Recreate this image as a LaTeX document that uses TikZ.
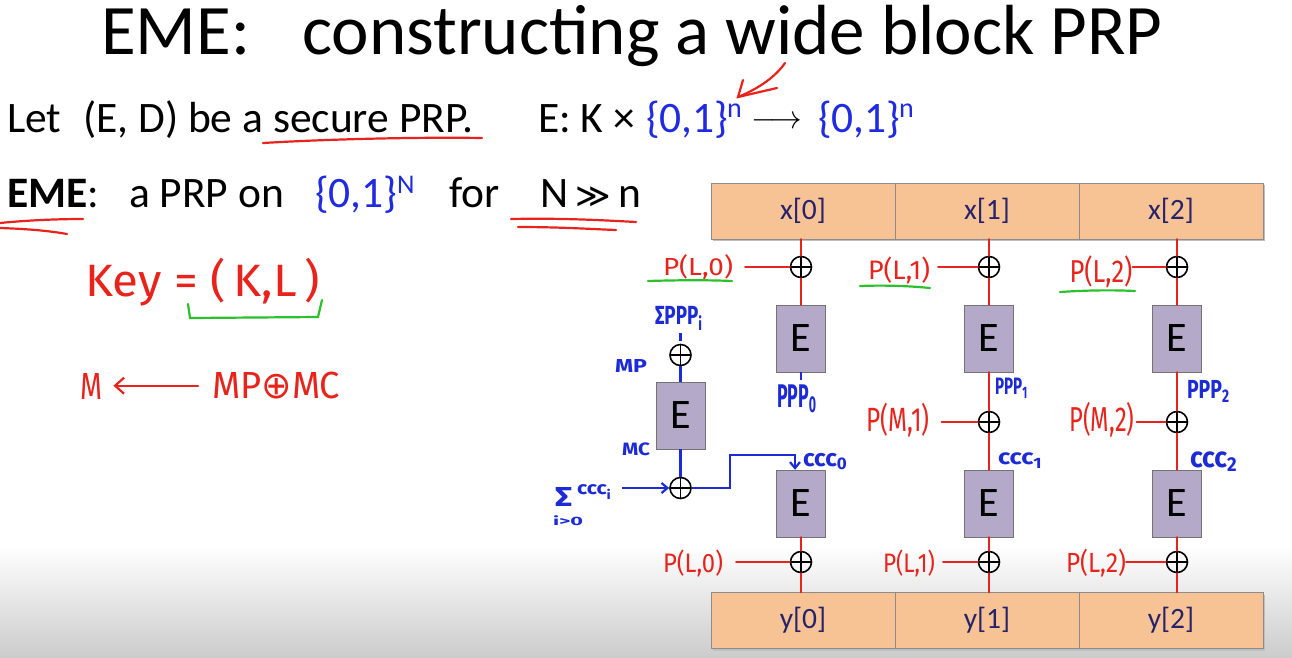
\documentclass[tikz,border=0pt]{standalone}
\usepackage{fontspec}
\usepackage{graphicx}
\setmainfont{Carlito}
\newfontfamily\hand{Fira Sans}
\newfontfamily\sym{DejaVu Sans}
\usetikzlibrary{arrows.meta}
\definecolor{pen}{HTML}{E8231B}
\definecolor{bpen}{HTML}{1C2BD6}
\definecolor{gpen}{HTML}{2CC02C}
\definecolor{setb}{HTML}{1F2BE0}
\definecolor{xfill}{HTML}{F8C394}
\definecolor{efill}{HTML}{B4A9C8}
\definecolor{navy}{HTML}{27236B}
\newcommand{\fs}[1]{\fontsize{#1}{#1}\selectfont}
\newcommand{\hw}[3]{\resizebox*{#1pt}{#2pt}{\hand #3}}
\newcommand{\hwb}[3]{\resizebox*{#1pt}{#2pt}{\hand\bfseries #3}}
\begin{document}
\begin{tikzpicture}[x=1pt,y=-1pt,
  txt/.style={inner sep=0pt, anchor=base west, font=\fs{43.5}},
  cell/.style={draw=black!45, fill=xfill, minimum width=184pt, minimum height=56pt, inner sep=0pt, text=navy, font=\fs{29.5}},
  ebox/.style={draw=black!55, fill=efill, minimum width=49pt, minimum height=67pt, inner sep=0pt, font=\fs{42}},
  xor/.style={circle, draw=black, line width=1.6pt, minimum size=21pt, inner sep=0pt,
    path picture={\draw[black, line width=1.6pt] (path picture bounding box.north) -- (path picture bounding box.south) (path picture bounding box.west) -- (path picture bounding box.east);}},
  rl/.style={pen, line width=2.2pt, line cap=round},
  bl/.style={bpen, line width=2.2pt},
  gl/.style={gpen, line width=2.2pt, line cap=round},
  lab/.style={inner sep=0pt, text=pen},
  blab/.style={inner sep=0pt, text=bpen},
  barb/.style={-{Straight Barb[length=6pt,width=10pt]}},
]
\useasboundingbox (0,0) rectangle (1292,657);
\fill[white] (0,0) rectangle (1292,657);
\shade[top color=white, bottom color=black!20] (0,545) rectangle (1292,657);

% title
\node[txt, font=\fs{71}] (t1) at (101,54) {EME:};
\node[txt, font=\fs{71}] (t2) at (302,54) {constructing a wide block PRP};

% line 1
\node[txt] (l1a) at (7,132) {Let};
\node[txt] (l1b) at (83,132) {(E, D) be a secure PRP.};
\node[txt] (l1c) at (538,132) {E: K ×};
\node[txt, text=setb] (l1d) at (646,132) {\{0,1\}};
\node[txt, text=setb, font=\fs{28}] (l1e) at (727,117) {n};
\node[inner sep=0pt] (l1f) at (777,122) {\resizebox{51pt}{12pt}{$\longrightarrow$}};
\node[txt, text=setb] (l1g) at (818,132) {\{0,1\}};
\node[txt, text=setb, font=\fs{28}] (l1h) at (899,117) {n};

% line 2
\node[txt] (l2a) at (7,207) {\textbf{EME}:};
\node[txt] (l2c) at (129,207) {a PRP on};
\node[txt, text=setb] (l2d) at (315,207) {\{0,1\}};
\node[txt, text=setb, font=\fs{27}] (l2e) at (397,193) {N};
\node[txt] (l2f) at (449,207) {for};
\node[txt] (l2g) at (540,207) {N\,{\sym\fs{34}≫}\,n};

% red annotations on text
\draw[rl] (263,143) .. controls (330,139) and (420,137) .. (482,138);
\draw[rl] (0,223) .. controls (30,220) and (60,219) .. (83,219);
\draw[rl] (0,228) .. controls (30,229) and (50,231) .. (67,234);
\draw[rl] (511,219) .. controls (560,218) and (600,220) .. (636,222);
\draw[rl] (518,227) .. controls (560,227) and (590,229) .. (616,230);
\draw[rl] (785,63) .. controls (776,76) and (760,88) .. (738,97);
\draw[rl] (743,80) -- (738,97) -- (777,88);

% key
\node[lab, anchor=north west] (key) at (85,258) {\hw{235}{48}{Key = (\,K,L\,)}};
\draw[gl] (188,304) -- (190,318) -- (318,317) -- (322,300);
\node[lab, anchor=north west] (mm) at (80,373) {\hw{22}{26}{M}};
\node[lab, anchor=north west] (mpmc) at (212,372) {\hw{128}{27}{MP{\sym ⊕}MC}};
\draw[rl, -{Straight Barb[length=9pt,width=16pt]}, shorten <=14pt, shorten >=11pt] (mpmc.west) -- (mm.east |- mpmc.west);

% blocks
\fill[black!25] (713,185) rectangle (1265,241);
\node[cell] (x0) at (803,211) {x[0]};
\node[cell] (x1) at (987,211) {x[1]};
\node[cell] (x2) at (1171,211) {x[2]};
\fill[black!25] (713,595) rectangle (1265,651);
\node[cell] (y0) at (803,620.5) {y[0]};
\node[cell] (y1) at (987,620.5) {y[1]};
\node[cell] (y2) at (1171,620.5) {y[2]};

\node[xor] (xa0) at (801,267) {};
\node[xor] (xa1) at (989,267) {};
\node[xor] (xa2) at (1177,267) {};
\node[ebox] (e10) at (801,338.5) {E};
\node[ebox] (e11) at (989,338.5) {E};
\node[ebox] (e12) at (1177,338.5) {E};
\node[xor] (xb1) at (989,422) {};
\node[xor] (xb2) at (1177,422) {};
\node[ebox] (e20) at (801,503.5) {E};
\node[ebox] (e21) at (989,503.5) {E};
\node[ebox] (e22) at (1177,503.5) {E};
\node[xor] (xc0) at (801,562) {};
\node[xor] (xc1) at (989,562) {};
\node[xor] (xc2) at (1177,562) {};

\node[xor] (xm) at (680.5,355) {};
\node[ebox] (em) at (680.5,415.5) {E};
\node[xor] (xmc) at (680.5,488) {};

% red labels
\node[lab] (la0) at (698,267) {\hw{70}{25}{P(L,0)}};
\node[lab] (la1) at (899,270) {\hw{62}{27}{P(L,1)}};
\node[lab] (la2) at (1101,272) {\hw{63}{32}{P(L,2)}};
\node[lab] (lb1) at (898,420) {\hw{63}{34}{P(M,1)}};
\node[lab] (lb2) at (1102,420) {\hw{65}{35}{P(M,2)}};
\node[lab] (lc0) at (693,563) {\hw{60}{27}{P(L,0)}};
\node[lab] (lc1) at (909,563) {\hw{52}{27}{P(L,1)}};
\node[lab] (lc2) at (1096,563) {\hw{60}{28}{P(L,2)}};
\draw[gl] (648,281) .. controls (680,280) and (710,280) .. (732,281);
\draw[gl] (860,286) .. controls (885,285) and (910,286) .. (930,288);
\draw[gl] (1060,292) .. controls (1090,290) and (1115,290) .. (1135,291);

% red connectors
\foreach \k in {0,1,2}{
  \draw[rl] (x\k.south -| xa\k) -- (xa\k.north);
  \draw[rl] (xa\k.south) -- (e1\k.north);
  \draw[rl] (e2\k.south) -- (xc\k.north);
  \draw[rl] (xc\k.south) -- (xc\k |- y\k.north);
}
\draw[rl] (e11.south) -- (xb1.north);
\draw[rl] (xb1.south) -- (e21.north);
\draw[rl] (e12.south) -- (xb2.north);
\draw[rl] (xb2.south) -- (e22.north);
\draw[rl, shorten <=12pt] (la0.east |- xa0) -- (xa0.west);
\draw[rl, shorten <=8pt] (la1.east |- xa1) -- (xa1.west);
\draw[rl] (la2.east |- xa2) -- (xa2.west);
\draw[rl, shorten <=12pt] (lb1.east |- xb1) -- (xb1.west);
\draw[rl, shorten <=2pt] (lb2.east |- xb2) -- (xb2.west);
\draw[rl, shorten <=13pt] (lc0.east |- xc0) -- (xc0.west);
\draw[rl, shorten <=8pt] (lc1.east |- xc1) -- (xc1.west);
\draw[rl] (lc2.east |- xc2) -- (xc2.west);

% blue labels
\node[blab] (sppp) at (679,318) {\hwb{48}{24}{ΣPPP\textsubscript{i}}};
\node[blab] (mp) at (631,366) {\hwb{32}{13}{MP}};
\node[blab] (mc) at (636,449) {\hwb{28}{13}{MC}};
\node[blab] (sig) at (563.5,497) {\hwb{17}{19}{Σ}};
\node[blab] (cccL) at (594.5,492) {\hwb{35}{14}{ccc\textsubscript{i}}};
\node[blab] (igt) at (568,521) {\hwb{30}{10}{i>0}};
\node[blab] (ppp0) at (797,399) {\hwb{40}{28}{PPP\textsubscript{0}}};
\node[blab] (ppp1) at (1011.5,388) {\hwb{33}{20}{PPP\textsubscript{1}}};
\node[blab] (ppp2) at (1208.5,391) {\hwb{43}{22}{PPP\textsubscript{2}}};
\node[blab] (ccc0) at (825.5,461.5) {\hwb{45}{17}{ccc\textsubscript{0}}};
\node[blab] (ccc1) at (1020.5,460.5) {\hwb{45}{15}{ccc\textsubscript{1}}};
\node[blab] (ccc2) at (1214,461.5) {\hwb{48}{20}{ccc\textsubscript{2}}};

% blue connectors
\draw[bl] ([yshift=-3pt]sppp.south -| xm.north) -- ([yshift=3pt]xm.north);
\draw[bl] (xm.south) -- (em.north);
\draw[bl] (em.south) -- (xmc.north);
\draw[bl, barb, shorten <=10pt] (cccL.east |- xmc) -- (xmc.west);
\coordinate (j1) at (730,455);
\draw[bl, barb] (xmc.east) -| (j1) -| ([xshift=-6pt]e20.north);
\draw[bl] (e10.south) -- ++(0,8);
\end{tikzpicture}
\end{document}
